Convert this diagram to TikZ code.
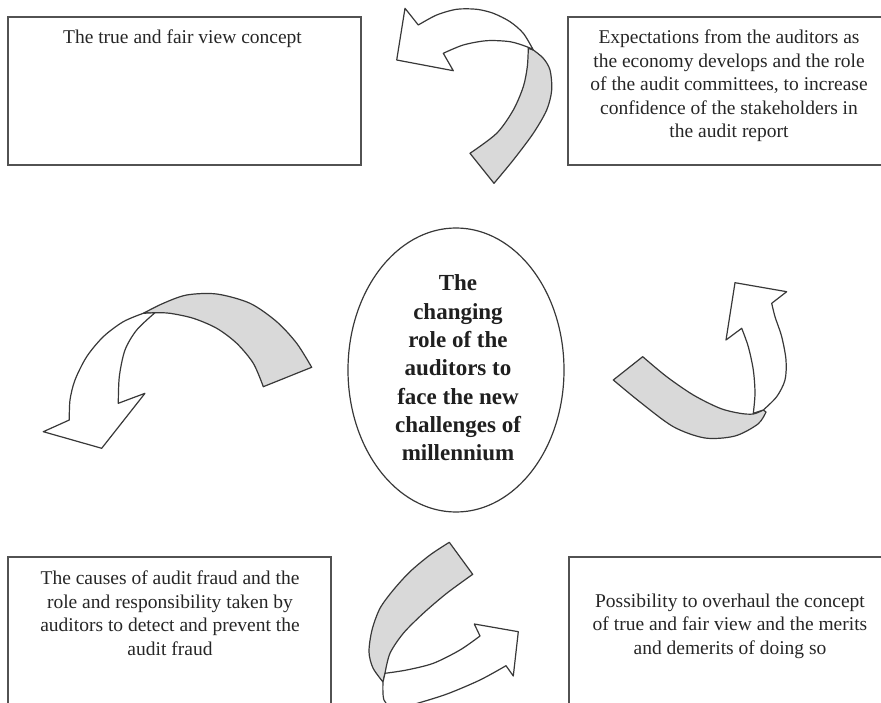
\documentclass[tikz,border=0pt]{standalone}
\usepackage{fontspec}
\setmainfont{Liberation Serif}
\begin{document}
\begin{tikzpicture}[x=1pt,y=-1pt,
  frame/.style={draw=black!68, line width=1.5pt},
  ribbon/.style={draw=black!78, line width=1.2pt, line join=round},
  backside/.style={ribbon, fill=black!15},
  frontside/.style={ribbon, fill=white},
  boxtext/.style={text=black!85, align=center, inner sep=0pt,
    font=\fontsize{19.5}{23.5}\selectfont},
  hubtext/.style={text=black!88, align=center, inner sep=0pt,
    font=\fontsize{23}{28.3}\selectfont\bfseries}]
\useasboundingbox (0,0) rectangle (881,703);

% four topic boxes
\draw[frame] (8,17) rectangle (361,165);
\draw[frame] (568,17) rectangle (895,165);
\draw[frame] (8,557) rectangle (331,712);
\draw[frame] (569,557) rectangle (895,712);

\node[boxtext] (tl) at (182.5,39) {The true and fair view concept};
\node[boxtext] (tr) at (729,86) {Expectations from the auditors as\\the economy develops and the role\\of the audit committees, to increase\\confidence of the stakeholders in\\the audit report};
\node[boxtext] (bl) at (170,613) {The causes of audit fraud and the\\role and responsibility taken by\\auditors to detect and prevent the\\audit fraud};
\node[boxtext] (br) at (730,626) {Possibility to overhaul the concept\\of true and fair view and the merits\\and demerits of doing so};

% central ellipse
\draw[draw=black!78, line width=1.2pt] (456,370) ellipse [x radius=108, y radius=142];
\node[hubtext] (hub) at (458,368) {The\\changing\\role of the\\auditors to\\face the new\\challenges of\\millennium};

% top arrow, curling to the left
\filldraw[backside] (470,153.3) -- (494,183.3)
  -- plot[smooth] coordinates {(494,183.3) (513.3,160) (533.3,133.3) (546.7,110) (551.7,90) (550,70) (543.3,58.3) (533.3,50)}
  -- plot[smooth] coordinates {(528.3,48.3) (527.3,66.7) (523.3,86.7) (513.3,110) (496.7,133.3) (470,153.3)} -- cycle;
\filldraw[frontside] (533.3,50)
  -- plot[smooth] coordinates {(533.3,50) (523.3,33.3) (510,21.7) (493.3,13.3) (476.7,9.3) (456.7,9.3) (436.7,15) (418.3,25)}
  -- (405,8.3) -- (396.7,60) -- (453.3,70.7) -- (443.3,53.3)
  -- plot[smooth] coordinates {(443.3,53.3) (463.3,45) (486.7,40.7) (510,41.7) (526.7,46.7) (533.3,50)} -- cycle;

% right arrow, curling upwards
\filldraw[backside] (613.3,380) -- (642.7,356.7)
  -- plot[smooth] coordinates {(642.7,356.7) (666.7,376.7) (693.3,395) (720,408.3) (740,413.3) (753.3,414) (763.3,410)}
  -- plot[smooth] coordinates {(766,412) (758,424) (735,436) (705,438) (673.3,426.7) (640,402) (613.3,380)} -- cycle;
\filldraw[frontside] (763.3,410)
  -- plot[smooth] coordinates {(763.3,410) (776.7,396.7) (785,380) (786,360) (781.7,336.7) (775,316.7) (771.7,303.3)}
  -- (786.7,291.7) -- (735,282.7) -- (726,340) -- (741.7,328.3)
  -- plot[smooth] coordinates {(741.7,328.3) (748.3,346.7) (753.3,370) (755,393.3) (753.3,413.3)} -- cycle;

% left arrow, curling downwards
\filldraw[backside] (263.3,386.7) -- (311.7,367.3)
  -- plot[smooth] coordinates {(311.7,367.3) (296.7,343.3) (276.7,321.7) (250,303.3) (216.7,294) (186.7,295) (163.3,303.3) (143.3,313.3)}
  -- plot[smooth] coordinates {(155,312.7) (170,313.3) (193.3,318.3) (216.7,328.3) (236.7,343.3) (253.3,363.3) (263.3,386.7)} -- cycle;
\filldraw[frontside] (143.3,313.3)
  -- plot[smooth] coordinates {(143.3,313.3) (123.3,321.7) (103.3,336.7) (86.7,356.7) (75,380) (70,400) (69.3,420)}
  -- (43.3,431.7) -- (101.7,448.3) -- (145,393.3) -- (118.3,403.3)
  -- plot[smooth] coordinates {(118.3,403.3) (119.3,376.7) (125,350) (136.7,330) (155,312.7)} -- cycle;

% bottom arrow, curling to the right
\filldraw[backside] (449.3,542.3) -- (472.7,574.3)
  -- plot[smooth] coordinates {(472.7,574.3) (446.7,593.3) (423.3,613.3) (403.3,633.3) (390,653.3) (385,673.3)}
  -- plot[smooth] coordinates {(383,682) (373,668) (369,652) (372,630) (380,608.3) (393.3,590) (410,571.7) (430,555) (449.3,542.3)} -- cycle;
\filldraw[frontside] (385,673.3)
  -- plot[smooth] coordinates {(385,673.3) (406.7,670) (433.3,663.3) (460,650) (480,636)}
  -- (474.3,624) -- (518.3,631.7) -- (513.3,676) -- (506,665.7)
  -- plot[smooth] coordinates {(506,665.7) (480,680) (447,694) (415,704) (395,709) (384,700) (383,682)} -- cycle;
\end{tikzpicture}
\end{document}
